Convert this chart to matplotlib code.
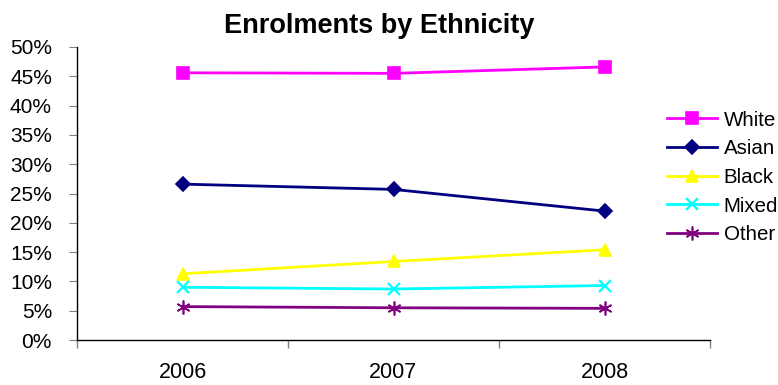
import matplotlib.pyplot as plt
from matplotlib.ticker import PercentFormatter, FixedLocator, NullFormatter

plt.rcParams['font.family'] = ['Liberation Sans', 'DejaVu Sans']

years = ['2006', '2007', '2008']
white = [45.6, 45.5, 46.6]
asian = [26.6, 25.7, 22.0]
black = [11.3, 13.4, 15.4]
mixed = [9.0, 8.7, 9.3]
other = [5.7, 5.5, 5.4]

series = [
    ('White', white, '#FF00FF', 's', 9),
    ('Asian', asian, '#000080', 'D', 7),
    ('Black', black, '#FFFF00', '^', 9),
    ('Mixed', mixed, '#00FFFF', 'x', 9),
    ('Other', other, '#800080', (6, 2, 0), 10),
]

fig = plt.figure(figsize=(7.78, 3.85), dpi=100)
ax = fig.add_axes([77 / 778, 45 / 385, 633 / 778, 293 / 385])

x = list(range(len(years)))
for name, vals, color, marker, ms in series:
    ax.plot(x, vals, color=color, marker=marker, markersize=ms, linewidth=2,
            markeredgewidth=1.6 if marker == 'x' else 1.2, label=name)

ax.set_xlim(-0.5, len(years) - 0.5)
ax.set_ylim(0, 50)
ax.set_yticks(range(0, 51, 5))
ax.yaxis.set_major_formatter(PercentFormatter(decimals=0))

# category labels centred, tick marks on the boundaries
ax.xaxis.set_major_locator(FixedLocator([-0.5, 0.5, 1.5, 2.5]))
ax.xaxis.set_major_formatter(NullFormatter())
ax.xaxis.set_minor_locator(FixedLocator(x))
ax.set_xticklabels(years, minor=True)
ax.tick_params(axis='x', which='minor', length=0, pad=16, labelsize=15.5)
ax.tick_params(axis='x', which='major', length=6, color='#808080', width=1)
ax.tick_params(axis='y', length=6, color='#808080', labelsize=15, pad=12)

for side in ['top', 'right']:
    ax.spines[side].set_visible(False)
for side in ['left', 'bottom']:
    ax.spines[side].set_linewidth(1)

fig.text(379 / 778, 1 - 26 / 385, 'Enrolments by Ethnicity', fontsize=19.5,
         fontweight='bold', ha='center', va='center')

leg = ax.legend(loc='center left', bbox_to_anchor=(667 / 778, 1 - 177.5 / 385),
                bbox_transform=fig.transFigure, frameon=False, fontsize=14.8,
                borderpad=0, borderaxespad=0, handlelength=2.45,
                handletextpad=0.3, labelspacing=0.47)

fig.savefig('out.png', dpi=100)
